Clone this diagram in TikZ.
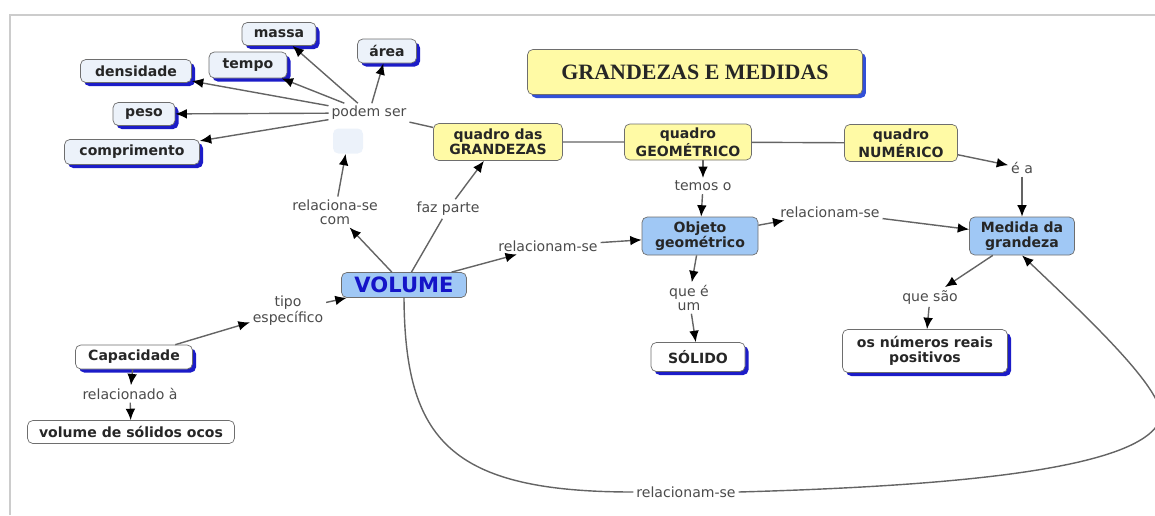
\documentclass[tikz,border=0pt]{standalone}
\usepackage{fontspec}
\setmainfont{DejaVu Sans}
\newfontfamily\titlefont{Liberation Serif}
\usetikzlibrary{arrows.meta,shadows}

\definecolor{caixaazul}{RGB}{160,200,245}
\definecolor{caixaamarela}{RGB}{255,250,165}
\definecolor{caixaclara}{RGB}{236,242,250}
\definecolor{sombra}{RGB}{28,28,200}
\definecolor{sombratit}{RGB}{50,80,215}
\definecolor{borda}{RGB}{110,110,110}
\definecolor{linha}{RGB}{100,100,100}
\definecolor{corrotulo}{RGB}{75,75,75}
\definecolor{azultexto}{RGB}{20,20,200}

\tikzset{
  conceito/.style={draw=borda, rounded corners=3pt, inner sep=0pt, align=center,
    font=\fontsize{8}{8.8}\selectfont\bfseries, text=black!85},
  sombreado/.style={conceito, fill=caixaclara,
    drop shadow={shadow xshift=2pt, shadow yshift=-2pt, fill=sombra, opacity=1}},
  branco/.style={sombreado, fill=white},
  amarelo/.style={conceito, fill=caixaamarela},
  azul/.style={conceito, fill=caixaazul},
  rotulo/.style={align=center, inner sep=1.5pt, text=corrotulo,
    font=\fontsize{8}{8}\selectfont},
  liga/.style={draw=linha, line width=0.8pt},
  seta/.style={liga, -{Latex[length=6.5pt,width=5.5pt,color=black]}}
}

\begin{document}
\begin{tikzpicture}[x=0.02cm, y=-0.02cm]
\clip (0,0) rectangle (1155,515);
\draw[gray!40, line width=1.5pt] (10,515) -- (10,15) -- (1155,15);

\node[sombreado, minimum width=1.48cm, minimum height=0.46cm] (massa) at (279,34) {massa};
\node[sombreado, minimum width=1.56cm, minimum height=0.52cm] (tempo) at (248,65) {tempo};
\node[sombreado, minimum width=1.18cm, minimum height=0.48cm] (area) at (387,51) {área};
\node[sombreado, minimum width=2.22cm, minimum height=0.46cm] (densidade) at (136,71) {densidade};
\node[sombreado, minimum width=1.24cm, minimum height=0.46cm] (peso) at (144,114) {peso};
\node[sombreado, minimum width=2.70cm, minimum height=0.50cm] (comprimento) at (132,152) {comprimento};
\node[rotulo] (podem) at (369,113) {podem ser};
\node[fill=caixaclara, rounded corners=3pt, minimum width=0.6cm, minimum height=0.5cm] (vazio) at (348,141) {};

\node[amarelo, minimum width=6.7cm, minimum height=0.9cm, font=\fontsize{12.5}{14}\titlefont\bfseries,
  drop shadow={shadow xshift=2pt, shadow yshift=-2pt, fill=sombratit, opacity=1}] (titulo) at (695,72) {GRANDEZAS E MEDIDAS};

\node[amarelo, minimum width=2.58cm, minimum height=0.74cm] (q_grand) at (498,142) {quadro das\\GRANDEZAS};
\node[amarelo, minimum width=2.54cm, minimum height=0.72cm] (q_geo) at (688,142) {quadro\\GEOMÉTRICO};
\node[amarelo, minimum width=2.26cm, minimum height=0.74cm] (q_num) at (901,143) {quadro\\NUMÉRICO};

\node[rotulo] (relacom) at (335,212) {relaciona-se\\com};
\node[rotulo] (fazparte) at (448,209) {faz parte};
\node[azul, minimum width=2.5cm, minimum height=0.5cm, text=azultexto,
  font=\fontsize{12}{14}\selectfont\bfseries] (volume) at (404,285) {VOLUME};
\node[rotulo] (tipo) at (288,311) {tipo\\específico};
\node[branco, minimum width=2.34cm, minimum height=0.48cm] (capacidade) at (134,357) {Capacidade};
\node[rotulo] (relacionado) at (130,394) {relacionado à};
\node[conceito, fill=white, minimum width=4.14cm, minimum height=0.46cm] (ocos) at (131,432) {volume de sólidos ocos};

\node[rotulo] (rel_obj) at (548,246) {relacionam-se};
\node[rotulo] (temos) at (703,186) {temos o};
\node[azul, minimum width=2.32cm, minimum height=0.76cm] (objeto) at (700,236) {Objeto\\geométrico};
\node[rotulo] (queeum) at (689,298) {que é\\um};
\node[branco, minimum width=1.88cm, minimum height=0.58cm] (solido) at (698,357) {SÓLIDO};

\node[rotulo] (rel_med) at (830,212) {relacionam-se};
\node[rotulo] (ea) at (1022,168) {é a};
\node[azul, minimum width=2.1cm, minimum height=0.76cm] (medida) at (1022,236) {Medida da\\grandeza};
\node[rotulo] (quesao) at (930,297) {que são};
\node[branco, minimum width=3.3cm, minimum height=0.86cm] (numeros) at (925,351) {os números reais\\positivos};
\node[rotulo] (rel_vol) at (686,492) {relacionam-se};

\foreach \alvo in {massa,tempo,area,densidade,peso,comprimento}
  \draw[seta] (podem) -- (\alvo);
\draw[liga] (podem) -- (q_grand);
\draw[liga] (q_grand) -- (q_geo) -- (q_num);

\draw[seta] (volume) -- (relacom);
\draw[seta] (relacom) -- (vazio);
\draw[liga] (volume) -- (fazparte);
\draw[seta] (fazparte) -- (q_grand);
\draw[seta] (volume) -- (rel_obj);
\draw[seta] (rel_obj) -- (objeto);
\draw[seta] (capacidade) -- (tipo);
\draw[seta] (tipo) -- (volume);
\draw[seta] (capacidade) -- (relacionado);
\draw[seta] (relacionado) -- (ocos);

\draw[seta] (q_geo.south -| temos) -- (temos);
\draw[seta] (temos) -- (objeto);
\draw[seta] (objeto) -- (queeum);
\draw[seta] (queeum) -- (solido);
\draw[seta] (objeto) -- (rel_med);
\draw[seta] (rel_med) -- (medida);
\draw[seta] (q_num) -- (ea);
\draw[seta] (ea) -- (medida);
\draw[seta] (medida) -- (quesao);
\draw[seta] (quesao) -- (numeros);

\draw[liga] (volume.south) .. controls (405,440) and (450,492) .. (rel_vol.west);
\draw[seta] (rel_vol.east) .. controls (950,486) and (1140,470) .. (1160,420)
  .. controls (1170,395) and (1090,320) .. (medida.south);
\end{tikzpicture}
\end{document}
